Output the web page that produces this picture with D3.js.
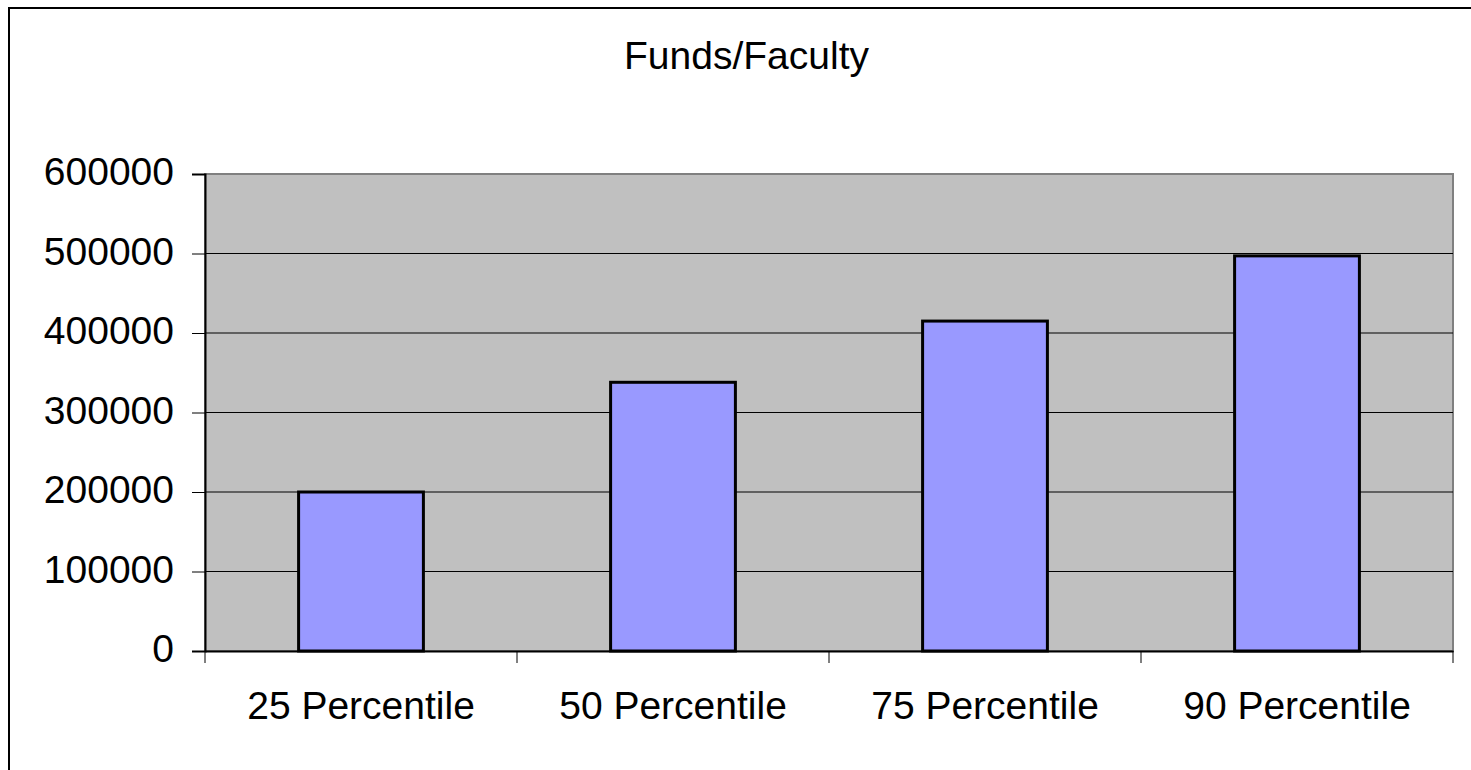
<!DOCTYPE html>
<html><head><meta charset="utf-8">
<script src="https://cdn.jsdelivr.net/npm/d3@7"></script>
<style>body{margin:0;background:#fff}svg{display:block}text{font-family:"Liberation Sans",Arial,sans-serif;fill:#000}</style>
</head><body>
<svg id="c" width="1471" height="770"></svg>
<script>
const title = "Funds/Faculty";
const categories = ["25 Percentile", "50 Percentile", "75 Percentile", "90 Percentile"];
const values = [200000, 338000, 415000, 497000];
const yTicks = [0, 100000, 200000, 300000, 400000, 500000, 600000];

const svg = d3.select("#c");
const W = 1471, H = 770;
const m = {left: 205, top: 174, right: 1453, bottom: 651};
const FS = 39;

// outer chart border
svg.append("rect").attr("x", 9).attr("y", 8).attr("width", W + 10).attr("height", H + 10)
  .attr("fill", "#fff").attr("stroke", "#000").attr("stroke-width", 2);

const x = d3.scaleBand().domain(categories).range([m.left, m.right]).paddingInner(0.6).paddingOuter(0.3);
const xb = d3.scaleBand().domain(categories).range([m.left, m.right]);
const y = d3.scaleLinear().domain([0, 600000]).range([m.bottom, m.top]);

// plot area
svg.append("rect").attr("x", m.left).attr("y", m.top).attr("width", m.right - m.left).attr("height", m.bottom - m.top)
  .attr("fill", "#c0c0c0").attr("stroke", "#808080").attr("stroke-width", 2);

// gridlines
svg.append("g").selectAll("line").data(yTicks.filter(d => d > 0 && d < 600000)).join("line")
  .attr("x1", m.left).attr("x2", m.right).attr("y1", d => y(d)).attr("y2", d => y(d))
  .attr("stroke", "#000").attr("stroke-width", 1);

// bars
svg.append("g").selectAll("rect").data(values).join("rect")
  .attr("x", (d, i) => x(categories[i])).attr("width", x.bandwidth())
  .attr("y", d => y(d)).attr("height", d => y(0) - y(d))
  .attr("fill", "#9999ff").attr("stroke", "#000").attr("stroke-width", 3);

// y axis
const yAxis = d3.axisLeft(y).tickValues(yTicks).tickSize(13).tickPadding(18).tickFormat(d3.format("d"));
const gy = svg.append("g").attr("transform", `translate(${m.left},0)`).call(yAxis);
gy.select(".domain").attr("stroke", "#000").attr("stroke-width", 2);
gy.selectAll(".tick line").attr("stroke", "#000");
gy.selectAll(".tick text").attr("font-size", FS).attr("font-family", "Liberation Sans, Arial, sans-serif").attr("dy", "0.28em");

// x axis
const gx = svg.append("g").attr("transform", `translate(0,${m.bottom})`)
  .call(d3.axisBottom(xb).tickSize(0).tickPadding(40));
gx.select(".domain").attr("stroke", "#000").attr("stroke-width", 2);
gx.selectAll(".tick text").attr("font-size", FS).attr("font-family", "Liberation Sans, Arial, sans-serif");
const bounds = [m.left].concat(categories.map(c => xb(c) + xb.bandwidth()));
svg.append("g").selectAll("line").data(bounds).join("line")
  .attr("x1", d => d).attr("x2", d => d).attr("y1", m.bottom).attr("y2", m.bottom + 12)
  .attr("stroke", "#000").attr("stroke-width", 1);

// title
svg.append("text").attr("x", 746.5).attr("y", 69).attr("text-anchor", "middle")
  .attr("font-size", FS).text(title);
</script>
</body></html>
